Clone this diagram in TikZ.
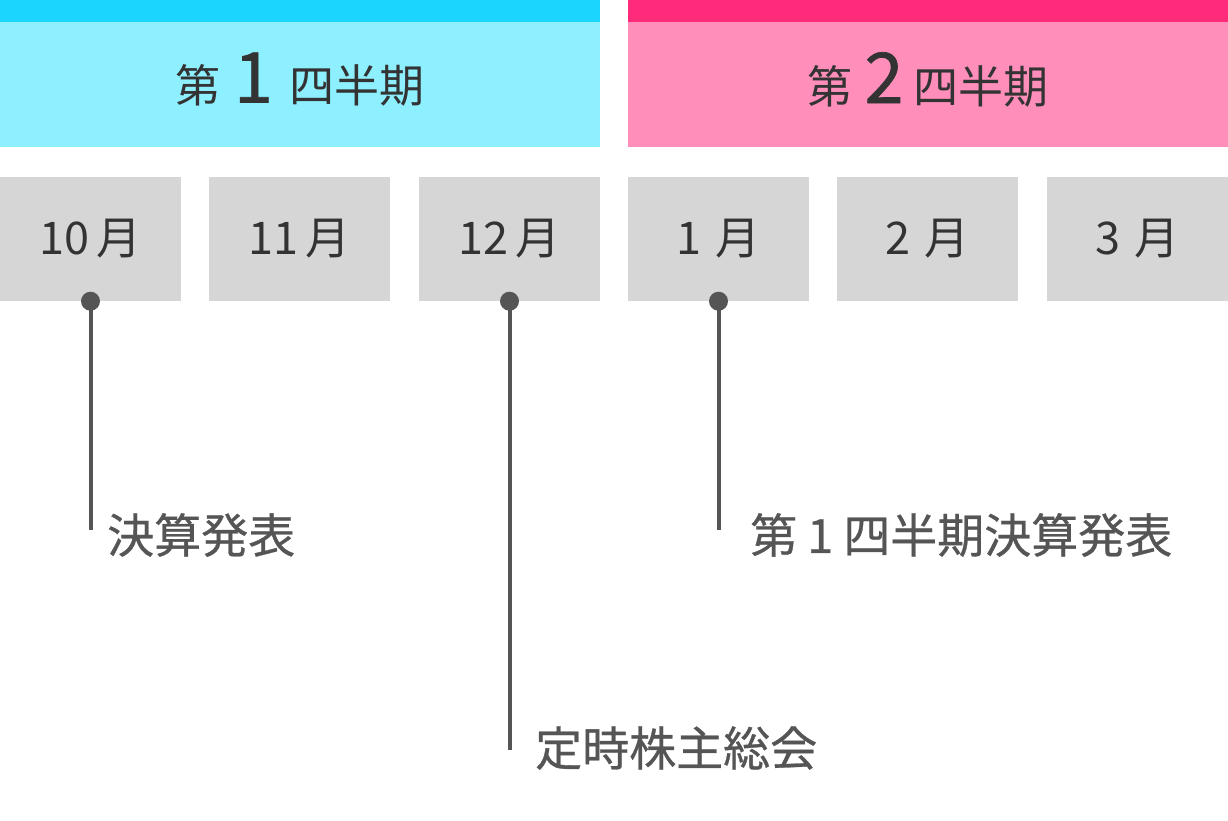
\documentclass[tikz,border=0pt]{standalone}
\usepackage{fontspec}
\setmainfont{Noto Sans CJK JP}
\newfontfamily\lblfont[FakeBold=0.6]{Noto Sans CJK JP}
\newfontfamily\digitfont[FakeBold=1]{Noto Sans CJK JP}
\definecolor{cyanbar}{HTML}{1CD5FF}
\definecolor{cyanbox}{HTML}{8EEFFF}
\definecolor{pinkbar}{HTML}{FF2A7A}
\definecolor{pinkbox}{HTML}{FF8EBB}
\definecolor{monthgray}{HTML}{D6D6D6}
\definecolor{darktext}{HTML}{333333}
\definecolor{linegray}{HTML}{555555}
\tikzset{
  qbox/.style={rectangle, minimum width=600pt, minimum height=125pt, inner sep=0pt},
  htext/.style={inner sep=0pt, yshift=5pt, text=darktext, font=\fontsize{45}{50}\selectfont},
  monthbox/.style={rectangle, fill=monthgray, minimum width=181pt, minimum height=124pt, inner sep=0pt, text=darktext, font=\fontsize{45}{50}\selectfont},
  dotmark/.style={circle, fill=linegray, minimum size=19pt, inner sep=0pt},
  leader/.style={draw=linegray, line width=4pt},
  evlabel/.style={anchor=west, inner sep=0pt, text=linegray, font=\lblfont\fontsize{47}{52}\selectfont}
}
\newcommand{\bigdigit}[1]{{\digitfont\fontsize{70}{70}\selectfont #1}}
\begin{document}
\begin{tikzpicture}[x=1pt,y=-1pt]
\useasboundingbox (0,0) rectangle (1228,820);
% quarter headers
\fill[cyanbar] (0,0) rectangle (600,22);
\fill[pinkbar] (628,0) rectangle (1228,22);
\node[qbox, fill=cyanbox, label={[htext]center:{第\hspace{14pt}\bigdigit{1}\hspace{17pt}四半期}}] (q1) at (300,84.5) {};
\node[qbox, fill=pinkbox, label={[htext]center:{第\hspace{12pt}\bigdigit{2}\hspace{10pt}四半期}}] (q2) at (928,84.5) {};
% months
\node[monthbox] (m10) at (90.5,239) {10\hspace{8pt}月};
\node[monthbox] (m11) at (299.5,239) {11\hspace{8pt}月};
\node[monthbox] (m12) at (509.5,239) {12\hspace{8pt}月};
\node[monthbox] (m1) at (718.5,239) {1\hspace{14pt}月};
\node[monthbox] (m2) at (927.5,239) {2\hspace{14pt}月};
\node[monthbox] (m3) at (1137.5,239) {3\hspace{14pt}月};
% leaders
\coordinate (e1) at (90.5,530);
\coordinate (e2) at (509.5,750);
\coordinate (e3) at (718.5,530);
\draw[leader] (m10.south) -- (e1);
\draw[leader] (m12.south) -- (e2);
\draw[leader] (m1.south) -- (e3);
\node[dotmark] (d1) at (m10.south) {};
\node[dotmark] (d2) at (m12.south) {};
\node[dotmark] (d3) at (m1.south) {};
% labels
\node[evlabel] (l1) at (107,535) {決算発表};
\node[evlabel] (l2) at (535,748) {定時株主総会};
\node[evlabel] (l3) at (750,535) {第\hspace{10pt}1\hspace{10pt}四半期決算発表};
\end{tikzpicture}
\end{document}
